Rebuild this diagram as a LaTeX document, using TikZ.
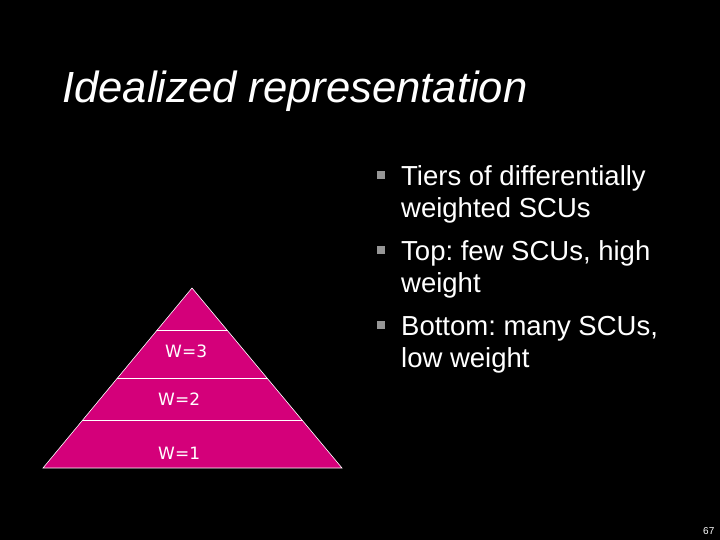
\documentclass[tikz,border=0pt]{standalone}
\usepackage{fontspec}
\setmainfont{Liberation Sans}
\newfontfamily\wfont{DejaVu Sans}
\frenchspacing
\definecolor{pyrpink}{RGB}{212,0,122}
\definecolor{bulletgray}{RGB}{150,150,150}
\def\pyramid{(192,288) -- (342,468) -- (43,468) -- cycle}

\begin{document}
\begin{tikzpicture}[x=1pt,y=-1pt,
    item/.style={anchor=base west,inner sep=0,align=left,text=white,font=\fontsize{27.5}{32}\selectfont},
    sq/.style={fill=bulletgray,minimum size=8pt,inner sep=0},
    tier/.style={anchor=base west,inner sep=0,text=white,font=\wfont\fontsize{17}{20}\selectfont}]
			\fill[black] (0,0) rectangle (720,540);
			\node[anchor=base west,inner sep=0,text=white,font=\itshape\fontsize{43.6}{50}\selectfont] (title) at (62,103) {Idealized representation};
			\fill[pyrpink] \pyramid;
			\begin{scope}
				\clip \pyramid;
				\draw[white,line width=1pt] (0,330) -- (720,330);
				\draw[white,line width=1pt] (0,378) -- (720,378);
				\draw[white,line width=1pt] (0,420) -- (720,420);
			\end{scope}
			\draw[white,line width=0.6pt] \pyramid;
			\node[tier] (wthree) at (165,357) {W=3};
			\node[tier] (wtwo) at (158,405.7) {W=2};
			\node[tier] (wone) at (158,459) {W=1};
			\node[sq] (b1) at (380.5,175.5) {};
			\node[sq] (b2) at (380.5,249.5) {};
			\node[sq] (b3) at (380.5,324.5) {};
			% base anchor sits on the last line
			\node[item] (tiers) at (401,218) {Tiers of differentially\\weighted SCUs};
			\node[item] (top) at (401,292.5) {Top: few SCUs, high\\weight};
			\node[item] (bottom) at (401,367) {Bottom: many SCUs,\\low weight};
			\node[anchor=base west,inner sep=0,text=white,font=\fontsize{10}{12}\selectfont] (pagenum) at (703,534) {67};
		\end{tikzpicture}
\end{document}
